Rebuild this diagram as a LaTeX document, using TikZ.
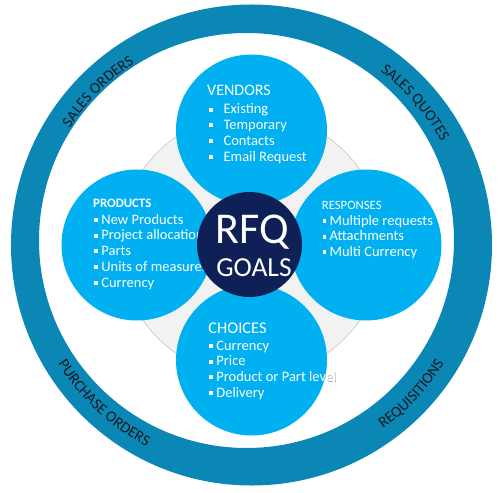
\documentclass[tikz,border=0pt]{standalone}
\usepackage{fontspec}
\setmainfont{Carlito}
\usepackage{tikz}
\usetikzlibrary{decorations.text}
\definecolor{ringblue}{RGB}{10,135,180}
\definecolor{bubbleblue}{RGB}{0,176,240}
\definecolor{goalnavy}{RGB}{14,32,86}
\definecolor{haze}{RGB}{242,242,242}
\definecolor{hazeline}{RGB}{190,190,190}
\definecolor{ringtext}{RGB}{20,25,35}
\newcommand{\sq}[2]{\hspace*{#1}\rule[2.4pt]{3.8pt}{3.8pt}\hspace*{#2}}
\newcommand{\ringfont}{\color{ringtext}\fontsize{15.5}{15.5}\selectfont}
\newcommand{\choicelist}{{\fontsize{16.4}{16.4}\selectfont CHOICES}\\[1pt]
\sq{0.7pt}{3.4pt}Currency\\ \sq{0.7pt}{3.4pt}Price\\ \sq{0.7pt}{3.4pt}Product or Part level\\ \sq{0.7pt}{3.4pt}Delivery}
\tikzset{
    bubble/.style={circle, fill=bubbleblue, minimum size=151pt, inner sep=0pt},
    bubbletext/.style={anchor=base west, inner sep=0pt, align=left, text=white, font=\fontsize{14.5}{15.7}\selectfont},
    ringlabel/.style={decorate, decoration={text along path, text align=center, text={|\ringfont|#1}}},
}

\begin{document}
\begin{tikzpicture}[x=1pt, y=1pt]
\useasboundingbox (-251.5,-247) rectangle (248.5,245);
% ring
\fill[ringblue, even odd rule] (0,0) circle (240.5) (-5,4.5) circle (207.5);
\path[ringlabel={SALES ORDERS}] (180:216) arc[start angle=180, end angle=90, radius=216];
\path[ringlabel={SALES QUOTES}] (86:216) arc[start angle=86, end angle=-4, radius=216];
\path[ringlabel={PURCHASE ORDERS}] (182:227) arc[start angle=182, end angle=272, radius=227];
\path[ringlabel={REQUISITIONS}] (272:226) arc[start angle=272, end angle=362, radius=226];

\draw[hazeline, fill=haze, line width=0.5pt] (0,0) circle (132);
\node[bubbletext, text=gray!70] (choicesglow) at (-42.6,-152.9) {\choicelist};

\node[bubble] (vendorsdisc) at (0,115) {};
\node[bubble] (productsdisc) at (-114.5,0) {};
\node[bubble] (responsesdisc) at (114.5,0) {};
\node[bubble] (choicesdisc) at (0,-115) {};

% lists, anchored at their last line
\node[bubbletext] (vendors) at (-44.5,83.9) {{\fontsize{16}{16}\selectfont VENDORS}\\[2.3pt]
\sq{1.6pt}{11pt}Existing\\ \sq{1.6pt}{11pt}Temporary\\ \sq{1.6pt}{11pt}Contacts\\ \sq{1.6pt}{11pt}Email Request};
\node[bubbletext] (products) at (-158.5,-42) {{\fontsize{12.8}{12.8}\selectfont\bfseries PRODUCTS}\\[0.9pt]
\sq{1pt}{3.4pt}New Products\\ \sq{1pt}{3.4pt}Project allocation\\ \sq{1pt}{3.4pt}Parts\\ \sq{1pt}{3.4pt}Units of measures\\ \sq{1pt}{3.4pt}Currency};
\node[bubbletext] (responses) at (70.2,-11.7) {{\fontsize{12.7}{12.7}\selectfont RESPONSES}\\[0pt]
\sq{0.6pt}{3.3pt}Multiple requests\\ \sq{0.6pt}{3.3pt}Attachments\\ \sq{0.6pt}{3.3pt}Multi Currency};
\node[bubbletext] (choices) at (-43.2,-152.3) {\choicelist};

\node[circle, fill=goalnavy, minimum size=105pt, inner sep=0pt] (goal) at (-2,0.5) {};
\node[anchor=base, text=white, inner sep=0pt, font=\fontsize{44}{44}\selectfont] (rfq) at (0.5,1.7) {RFQ};
\node[anchor=base, text=white, inner sep=0pt, font=\fontsize{27.5}{27.5}\selectfont] (goals) at (2.5,-31.7) {GOALS};
\end{tikzpicture}
\end{document}
